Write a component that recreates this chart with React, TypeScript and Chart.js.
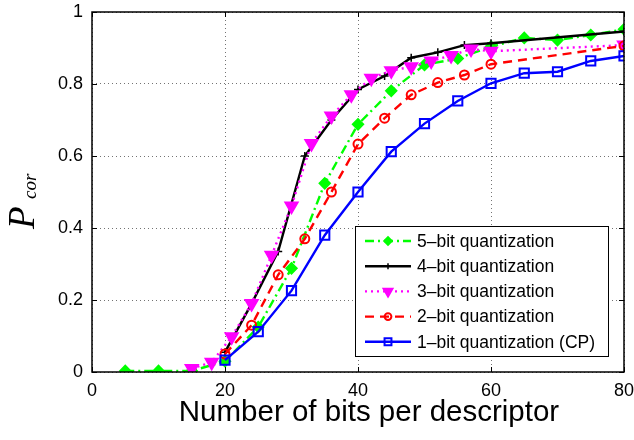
import React, { useEffect, useRef } from 'react';
import { Chart, registerables } from 'chart.js';

Chart.register(...registerables);

const SANS = "'Liberation Sans', Arial, Helvetica, sans-serif";
const SERIF = "'Liberation Serif', 'Times New Roman', serif";

// ---------------- data ----------------
const seriesNames = [
  '5–bit quantization',
  '4–bit quantization',
  '3–bit quantization',
  '2–bit quantization',
  '1–bit quantization (CP)',
];

const x5 = [5, 10, 15, 20, 25, 30, 35, 40, 45, 50, 55, 60, 65, 70, 75, 80];
const y5 = [0.003, 0.003, 0.003, 0.03, 0.125, 0.288, 0.524, 0.688, 0.781, 0.853, 0.871, 0.904, 0.928, 0.922, 0.936, 0.952];

const x4 = [20, 24, 28, 32, 36, 40, 44, 48, 52, 56, 60, 80];
const y4 = [0.055, 0.19, 0.335, 0.6, 0.7, 0.785, 0.822, 0.873, 0.888, 0.908, 0.913, 0.946];

const x3 = [15, 18, 21, 24, 27, 30, 33, 36, 39, 42, 45, 48, 51, 54, 57, 60, 80];
const y3 = [0.01, 0.027, 0.098, 0.19, 0.324, 0.461, 0.635, 0.711, 0.77, 0.816, 0.837, 0.848, 0.864, 0.879, 0.897, 0.891, 0.908];

const x2 = [20, 24, 28, 32, 36, 40, 44, 48, 52, 56, 60, 80];
const y2 = [0.05, 0.13, 0.27, 0.37, 0.5, 0.633, 0.705, 0.77, 0.804, 0.825, 0.855, 0.906];

const x1 = [20, 25, 30, 35, 40, 45, 50, 55, 60, 65, 70, 75, 80];
const y1 = [0.033, 0.112, 0.226, 0.38, 0.5, 0.612, 0.69, 0.753, 0.802, 0.83, 0.834, 0.864, 0.878];

const xTicks = [0, 20, 40, 60, 80];
const yTicks = [0, 0.2, 0.4, 0.6, 0.8, 1];
const yTickLabels = ['0', '0.2', '0.4', '0.6', '0.8', '1'];

const xTitle = 'Number of bits per descriptor';
const yTitleMain = 'P';
const yTitleSub = 'cor';

// ---------------- styles ----------------
type Sty = {
  color: string;
  dash: number[];
  marker: string;
  radius: number;
  rotation: number;
  fill: string;
  width: number;
};

const styles: Sty[] = [
  { color: '#00ff00', dash: [9, 4, 2, 4], marker: 'rectRot', radius: 5.5, rotation: 0, fill: '#00ff00', width: 2.4 },
  { color: '#000000', dash: [], marker: 'cross', radius: 4, rotation: 0, fill: '#000000', width: 2.4 },
  { color: '#ff00ff', dash: [2, 4], marker: 'triangle', radius: 7.5, rotation: 180, fill: '#ff00ff', width: 2.4 },
  { color: '#ff0000', dash: [9, 6], marker: 'circle', radius: 4.5, rotation: 0, fill: 'rgba(0,0,0,0)', width: 2.4 },
  { color: '#0000ff', dash: [], marker: 'rect', radius: 6.5, rotation: 0, fill: 'rgba(0,0,0,0)', width: 2.4 },
];

const xsAll = [x5, x4, x3, x2, x1];
const ysAll = [y5, y4, y3, y2, y1];

function drawMarker(ctx: CanvasRenderingContext2D, s: Sty, x: number, y: number) {
  const r = s.radius;
  ctx.save();
  ctx.setLineDash([]);
  ctx.strokeStyle = s.color;
  ctx.fillStyle = s.fill;
  ctx.lineWidth = 1.5;
  ctx.beginPath();
  if (s.marker === 'rectRot') {
    ctx.moveTo(x, y - r);
    ctx.lineTo(x + r, y);
    ctx.lineTo(x, y + r);
    ctx.lineTo(x - r, y);
    ctx.closePath();
    ctx.fill();
    ctx.stroke();
  } else if (s.marker === 'cross') {
    ctx.moveTo(x - r, y);
    ctx.lineTo(x + r, y);
    ctx.moveTo(x, y - r);
    ctx.lineTo(x, y + r);
    ctx.stroke();
  } else if (s.marker === 'triangle') {
    const h = r * 0.5;
    const w = r * Math.sqrt(3) / 2;
    ctx.moveTo(x, y + r);
    ctx.lineTo(x + w, y - h);
    ctx.lineTo(x - w, y - h);
    ctx.closePath();
    ctx.fill();
    ctx.stroke();
  } else if (s.marker === 'circle') {
    ctx.arc(x, y, r, 0, Math.PI * 2);
    ctx.lineWidth = 2;
    ctx.stroke();
  } else if (s.marker === 'rect') {
    const h = r * Math.SQRT1_2;
    ctx.rect(x - h, y - h, 2 * h, 2 * h);
    ctx.lineWidth = 2;
    ctx.stroke();
  }
  ctx.restore();
}

const framePlugin = {
  id: 'frame',
  afterDatasetsDraw(chart: any) {
    const { ctx, chartArea: a, scales } = chart;
    ctx.save();
    ctx.setLineDash([]);
    ctx.strokeStyle = '#000';
    ctx.lineWidth = 1;
    const tl = 5;
    ctx.beginPath();
    for (const v of xTicks) {
      const px = Math.round(scales.x.getPixelForValue(v)) + 0.5;
      ctx.moveTo(px, a.bottom);
      ctx.lineTo(px, a.bottom - tl);
      ctx.moveTo(px, a.top);
      ctx.lineTo(px, a.top + tl);
    }
    for (const v of yTicks) {
      const py = Math.round(scales.y.getPixelForValue(v)) + 0.5;
      ctx.moveTo(a.left, py);
      ctx.lineTo(a.left + tl, py);
      ctx.moveTo(a.right, py);
      ctx.lineTo(a.right - tl, py);
    }
    ctx.stroke();
    ctx.lineWidth = 1.5;
    ctx.strokeRect(a.left, a.top, a.right - a.left, a.bottom - a.top);
    ctx.restore();
  },
};

const legendPlugin = {
  id: 'customLegend',
  afterDraw(chart: any) {
    const { ctx } = chart;
    const bx = 355, by = 226, bw = 253, bh = 130;
    ctx.save();
    ctx.fillStyle = '#fff';
    ctx.fillRect(bx, by, bw, bh);
    ctx.strokeStyle = '#000';
    ctx.lineWidth = 1;
    ctx.setLineDash([]);
    ctx.strokeRect(bx + 0.5, by + 0.5, bw, bh);
    ctx.font = `17.5px ${SANS}`;
    ctx.textBaseline = 'middle';
    ctx.textAlign = 'left';
    for (let i = 0; i < styles.length; i++) {
      const s = styles[i];
      const cy = 241 + i * 25.2;
      ctx.beginPath();
      ctx.strokeStyle = s.color;
      ctx.lineWidth = s.width;
      ctx.setLineDash(s.dash);
      ctx.moveTo(365, cy);
      ctx.lineTo(411, cy);
      ctx.stroke();
      ctx.setLineDash([]);
      drawMarker(ctx, { ...s, radius: s.radius * 0.75 }, 388, cy);
      ctx.fillStyle = '#000';
      ctx.fillText(seriesNames[i], 417, cy + 1);
    }
    ctx.restore();
  },
};

const titlesPlugin = {
  id: 'titles',
  afterDraw(chart: any) {
    const { ctx } = chart;
    // x title
    ctx.save();
    ctx.fillStyle = '#000';
    ctx.textAlign = 'center';
    ctx.textBaseline = 'alphabetic';
    ctx.font = `29.5px ${SANS}`;
    ctx.fillText(xTitle, 369, 421);
    ctx.restore();
    // y title
    ctx.save();
    ctx.fillStyle = '#000';
    ctx.textAlign = 'left';
    ctx.textBaseline = 'alphabetic';
    ctx.translate(34, 229);
    ctx.rotate(-Math.PI / 2);
    ctx.font = `italic 37px ${SERIF}`;
    ctx.fillText(yTitleMain, 0, 0);
    ctx.restore();
    ctx.save();
    ctx.fillStyle = '#000';
    ctx.textAlign = 'left';
    ctx.textBaseline = 'alphabetic';
    ctx.translate(36, 199);
    ctx.rotate(-Math.PI / 2);
    ctx.font = `italic 19px ${SERIF}`;
    ctx.fillText(yTitleSub, 0, 0);
    ctx.restore();
  },
};

export default function App() {
  const ref = useRef<HTMLCanvasElement | null>(null);

  useEffect(() => {
    if (!ref.current) return;
    const datasets = styles.map((s, i) => ({
      label: seriesNames[i],
      data: xsAll[i].map((x, j) => ({ x, y: ysAll[i][j] })),
      borderColor: s.color,
      backgroundColor: s.fill,
      borderWidth: s.width,
      borderDash: s.dash,
      pointStyle: s.marker,
      pointRadius: s.radius,
      pointRotation: s.rotation,
      pointBorderColor: s.color,
      pointBackgroundColor: s.fill,
      pointBorderWidth: s.marker === 'circle' || s.marker === 'rect' ? 2 : 1.5,
      tension: 0,
      fill: false,
      order: 5 - i,
    }));

    const chart = new Chart(ref.current, {
      type: 'line',
      data: { datasets },
      options: {
        responsive: false,
        animation: false,
        devicePixelRatio: 1,
        layout: { padding: { left: 0, right: 10, top: 12, bottom: 0 } },
        plugins: {
          legend: { display: false },
          tooltip: { enabled: false },
        },
        scales: {
          x: {
            type: 'linear',
            min: 0,
            max: 80,
            afterFit: (s: any) => {
              s.height = 68;
              s.paddingLeft = 0;
              s.paddingRight = 0;
              s.paddingTop = 0;
              s.paddingBottom = 0;
            },
            afterBuildTicks: (s: any) => { s.ticks = xTicks.map((v) => ({ value: v })); },
            ticks: { color: '#000', font: { family: SANS, size: 18 }, padding: 8, maxRotation: 0 },
            grid: { color: 'rgba(0,0,0,0.55)', lineWidth: 1, drawTicks: false },
            border: { display: false, dash: [1, 3] },
            title: { display: false },
          },
          y: {
            type: 'linear',
            min: 0,
            max: 1,
            afterFit: (s: any) => {
              s.width = 92;
              s.paddingLeft = 0;
              s.paddingRight = 0;
              s.paddingTop = 0;
              s.paddingBottom = 0;
            },
            afterBuildTicks: (s: any) => { s.ticks = yTicks.map((v) => ({ value: v })); },
            ticks: {
              color: '#000',
              font: { family: SANS, size: 18 },
              padding: 9,
              callback: (_v: any, idx: number) => yTickLabels[idx],
            },
            grid: { color: 'rgba(0,0,0,0.55)', lineWidth: 1, drawTicks: false },
            border: { display: false, dash: [1, 3] },
          },
        },
      },
      plugins: [framePlugin, legendPlugin, titlesPlugin],
    } as any);
    return () => chart.destroy();
  }, []);

  return (
    <div style={{ position: 'absolute', left: 0, top: 0, width: 634, height: 440, background: '#fff' }}>
      <canvas ref={ref} width={634} height={440} style={{ display: 'block' }} />
    </div>
  );
}
